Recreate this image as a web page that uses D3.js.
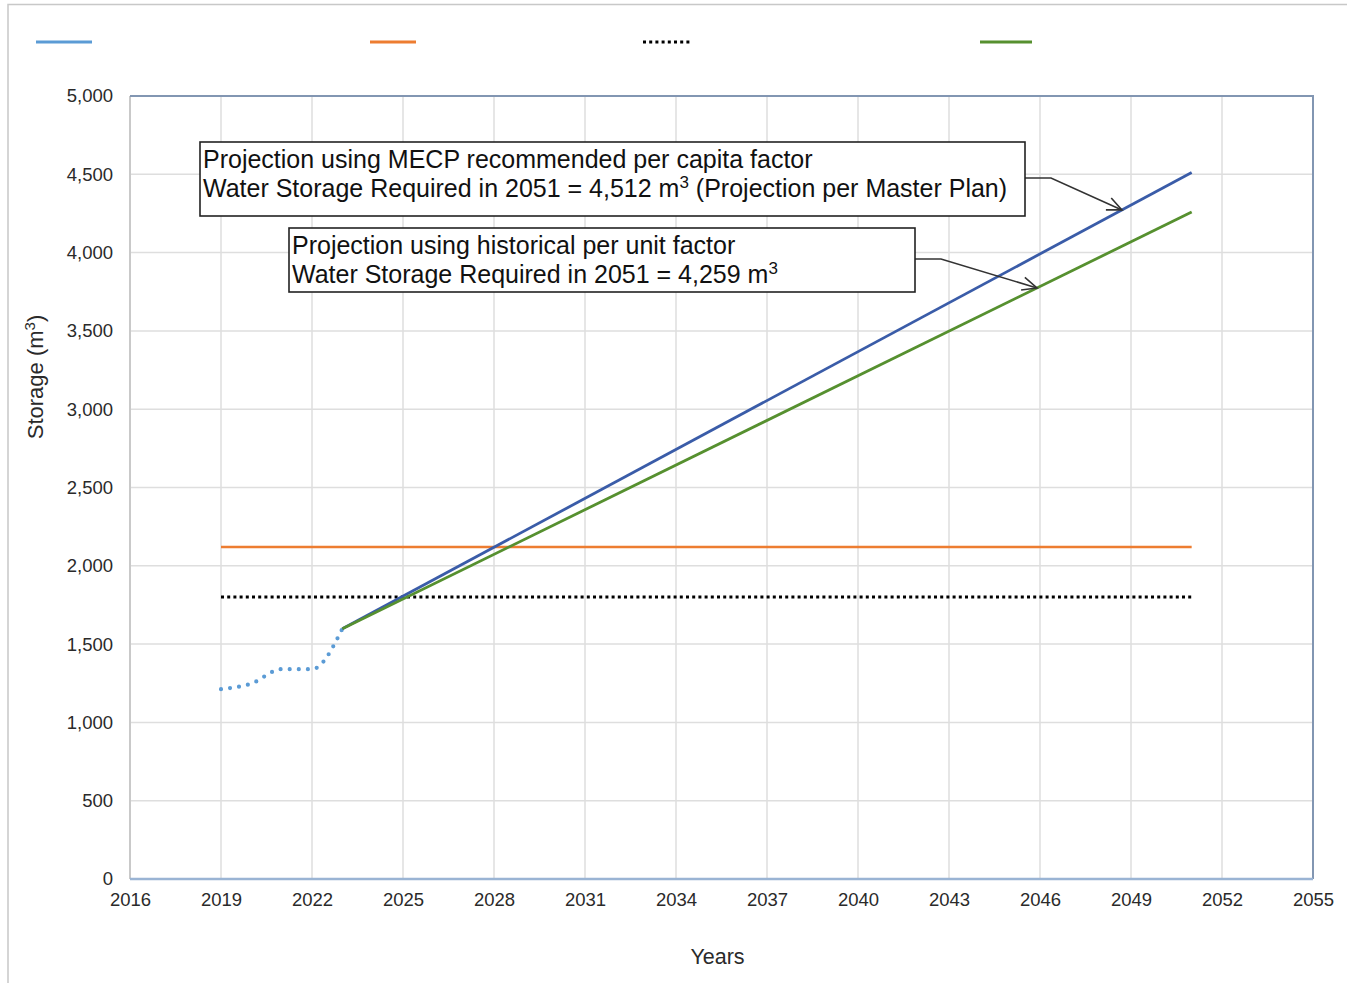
<!DOCTYPE html>
<html lang="en">
<head>
<meta charset="UTF-8">
<title>Water Storage Projection</title>
<script src="https://d3js.org/d3.v7.min.js"></script>
<style>
  body { margin: 0; background: #fff; }
  svg { font-family: "Liberation Sans", Arial, sans-serif; }
  .grid line { stroke: #dedede; stroke-width: 1.5; }
  .tick text { fill: #2a2a2a; font-size: 18.5px; }
</style>
</head>
<body>
<script>
// historical storage (smoothed dotted line)
const histYears = [2019, 2020, 2021, 2022, 2023];
const histValues = [1212, 1248, 1340, 1340, 1598];

// projections from 2023 to 2051
const projYears = [2023, 2051];
const mecpValues = [1598, 4512];
const histFactorValues = [1598, 4259];

// constant levels
const levelYears = [2019, 2051];
const existingStorage = [2120, 2120];
const thresholdStorage = [1800, 1800];

const xTicks = d3.range(2016, 2056, 3);
const yTicks = d3.range(0, 5001, 500);

const notes = [
  { lines: ["Projection using MECP recommended per capita factor",
            "Water Storage Required in 2051 = 4,512 m\u00B3 (Projection per Master Plan)"],
    target: 2048.7, series: mecpValues },
  { lines: ["Projection using historical per unit factor",
            "Water Storage Required in 2051 = 4,259 m\u00B3"],
    target: 2045.9, series: histFactorValues }
];

const width = 1347, height = 983;
const margin = { left: 130, right: 34, top: 96, bottom: 104 };

const svg = d3.select("body").append("svg")
  .attr("width", width)
  .attr("height", height);

// outer frame
svg.append("path")
  .attr("d", `M8,${height} V4.5 H${width}`)
  .attr("fill", "none")
  .attr("stroke", "#c8c8c8")
  .attr("stroke-width", 1.5);

const x = d3.scaleLinear().domain([2016, 2055]).range([margin.left, width - margin.right]);
const y = d3.scaleLinear().domain([0, 5000]).range([height - margin.bottom, margin.top]);

// grid
svg.append("g").attr("class", "grid")
  .selectAll("line").data(yTicks.slice(1)).enter().append("line")
  .attr("x1", x(2016)).attr("x2", x(2055))
  .attr("y1", d => y(d)).attr("y2", d => y(d));
svg.append("g").attr("class", "grid")
  .selectAll("line").data(xTicks.slice(1)).enter().append("line")
  .attr("x1", d => x(d)).attr("x2", d => x(d))
  .attr("y1", y(0)).attr("y2", y(5000));

// plot border
svg.append("line").attr("x1", x(2016)).attr("x2", x(2016)).attr("y1", y(0)).attr("y2", y(5000))
  .attr("stroke", "#c9c9c9").attr("stroke-width", 2);
svg.append("path")
  .attr("d", `M${x(2016)},${y(5000)} H${x(2055)} V${y(0)}`)
  .attr("fill", "none").attr("stroke", "#8296b2").attr("stroke-width", 2);
svg.append("line").attr("x1", x(2016)).attr("x2", x(2055)).attr("y1", y(0)).attr("y2", y(0))
  .attr("stroke", "#9ab4d4").attr("stroke-width", 2.5);

// axes
const xAxis = svg.append("g")
  .attr("transform", `translate(0,${y(0)})`)
  .call(d3.axisBottom(x).tickValues(xTicks).tickFormat(d3.format("d")).tickSize(0).tickPadding(14));
xAxis.select(".domain").remove();

const yAxis = svg.append("g")
  .attr("transform", `translate(${x(2016)},0)`)
  .call(d3.axisLeft(y).tickValues(yTicks).tickFormat(d3.format(",")).tickSize(0).tickPadding(17));
yAxis.select(".domain").remove();

svg.append("text")
  .attr("x", (x(2016) + x(2055)) / 2 - 4).attr("y", 964)
  .attr("text-anchor", "middle").attr("font-size", 21.5).attr("fill", "#2a2a2a")
  .text("Years");

const yLabel = svg.append("text")
  .attr("transform", `translate(43,377) rotate(-90)`)
  .attr("text-anchor", "middle").attr("font-size", 22).attr("fill", "#2a2a2a");
yLabel.append("tspan").text("Storage (m");
yLabel.append("tspan").attr("font-size", 15).attr("dy", -8).text("3");
yLabel.append("tspan").attr("dy", 8).text(")");

const line = d3.line().x(d => x(d[0])).y(d => y(d[1]));
const zip = (a, b) => a.map((v, i) => [v, b[i]]);

// level lines
svg.append("path").datum(zip(levelYears, existingStorage))
  .attr("d", line).attr("fill", "none").attr("stroke", "#ed7d31").attr("stroke-width", 2.5);
svg.append("path").datum(zip(levelYears, thresholdStorage))
  .attr("d", line).attr("fill", "none").attr("stroke", "#000")
  .attr("stroke-width", 3).attr("stroke-dasharray", "3 3.2");

// historical smoothed dotted
svg.append("path").datum(zip(histYears, histValues))
  .attr("d", d3.line().x(d => x(d[0])).y(d => y(d[1])).curve(d3.curveMonotoneX))
  .attr("fill", "none").attr("stroke", "#5b9bd5").attr("stroke-width", 4.2)
  .attr("stroke-linecap", "round").attr("stroke-dasharray", "0 9.1");

// projections
svg.append("path").datum(zip(projYears, mecpValues))
  .attr("d", line).attr("fill", "none").attr("stroke", "#3a5ca8").attr("stroke-width", 2.8);
svg.append("path").datum(zip(projYears, histFactorValues))
  .attr("d", line).attr("fill", "none").attr("stroke", "#56902f").attr("stroke-width", 2.8);

// legend swatches (no labels in original)
const legend = [
  { x1: 36, x2: 92, color: "#5b9bd5", dash: null },
  { x1: 370, x2: 416, color: "#ed7d31", dash: null },
  { x1: 643, x2: 690, color: "#000", dash: "3 3.2" },
  { x1: 980, x2: 1032, color: "#56902f", dash: null }
];
svg.append("g").selectAll("line").data(legend).enter().append("line")
  .attr("x1", d => d.x1).attr("x2", d => d.x2).attr("y1", 42).attr("y2", 42)
  .attr("stroke", d => d.color).attr("stroke-width", 3.2)
  .attr("stroke-dasharray", d => d.dash);

// annotation boxes
const boxes = [
  { x: 200, y: 142, w: 825, h: 74 },
  { x: 289, y: 228, w: 626, h: 64 }
];
const interp = (s, yr) => s[0] + (s[1] - s[0]) * (yr - projYears[0]) / (projYears[1] - projYears[0]);

notes.forEach((n, i) => {
  const b = boxes[i];
  const tipX = x(n.target), tipY = y(interp(n.series, n.target));
  const sx = b.x + b.w, sy = b.y + (i === 0 ? 36 : 31);
  const bx = sx + 26;
  svg.append("path")
    .attr("d", `M${sx},${sy} H${bx} L${tipX},${tipY}`)
    .attr("fill", "none").attr("stroke", "#333").attr("stroke-width", 1.6);
  const ang = Math.atan2(tipY - sy, tipX - bx);
  const hl = 16, ha = 0.42;
  svg.append("path")
    .attr("d", `M${tipX - hl * Math.cos(ang - ha)},${tipY - hl * Math.sin(ang - ha)} L${tipX},${tipY} L${tipX - hl * Math.cos(ang + ha)},${tipY - hl * Math.sin(ang + ha)}`)
    .attr("fill", "none").attr("stroke", "#333").attr("stroke-width", 1.6);

  svg.append("rect")
    .attr("x", b.x).attr("y", b.y).attr("width", b.w).attr("height", b.h)
    .attr("fill", "#fff").attr("stroke", "#222").attr("stroke-width", 1.6);
  n.lines.forEach((t, j) => {
    const tx = svg.append("text")
      .attr("x", b.x + 3).attr("y", b.y + 26 + j * 28.5)
      .attr("font-size", 25).attr("fill", "#111");
    const m = t.indexOf("\u00B3");
    if (m < 0) { tx.text(t); return; }
    tx.append("tspan").text(t.slice(0, m));
    tx.append("tspan").attr("font-size", 17).attr("dy", -9).text("3");
    tx.append("tspan").attr("dy", 9).text(t.slice(m + 1));
  });
});
</script>
</body>
</html>
